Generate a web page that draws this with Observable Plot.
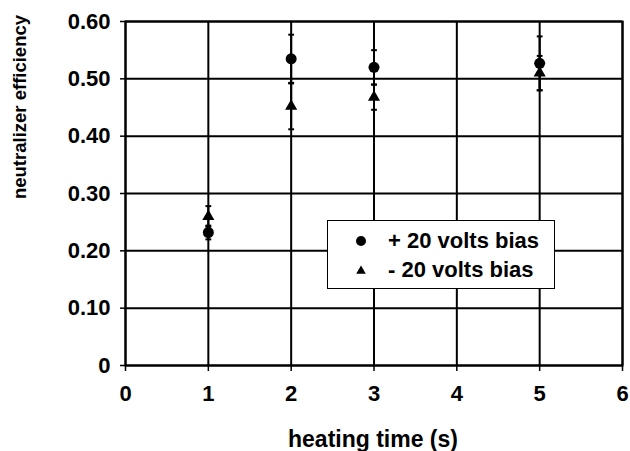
<!DOCTYPE html>
<html>
<head>
<meta charset="utf-8">
<script src="https://cdn.jsdelivr.net/npm/d3@7"></script>
<script src="https://cdn.jsdelivr.net/npm/@observablehq/plot@0.6"></script>
<style>
  html, body { margin: 0; padding: 0; background: white; }
  #wrap { position: relative; width: 630px; height: 451px; font-family: "Liberation Sans", Arial, sans-serif; }
  #wrap svg text { font-weight: bold; }
  #legend { position: absolute; left: 327px; top: 220px; width: 226px; height: 67px; border: 1.5px solid black; background: white; }
  .row { position: absolute; left: 0; height: 26px; display: flex; align-items: center; font-size: 22px; font-weight: bold; color: black; }
</style>
</head>
<body>
<div id="wrap"></div>
<script>
// Data
const heatingTime = [1, 2, 3, 5];
const plusBias = [0.232, 0.535, 0.520, 0.527];
const plusErr = [0.012, 0.042, 0.030, 0.047];
const minusBias = [0.260, 0.452, 0.468, 0.510];
const minusErr = [0.018, 0.040, 0.022, 0.030];
const xTicks = [0, 1, 2, 3, 4, 5, 6];
const yTicks = [0, 0.1, 0.2, 0.3, 0.4, 0.5, 0.6];
const seriesNames = ["+ 20 volts bias", "- 20 volts bias"];
const xLabel = "heating time (s)";
const yLabel = "neutralizer efficiency";

const plus = heatingTime.map((t, i) => ({t, v: plusBias[i], e: plusErr[i]}));
const minus = heatingTime.map((t, i) => ({t, v: minusBias[i], e: minusErr[i]}));
const cap = 0.035;

function errMarks(data) {
  return [
    Plot.ruleX(data, {x: "t", y1: d => d.v - d.e, y2: d => d.v + d.e, stroke: "black", strokeWidth: 2}),
    Plot.link(data, {x1: d => d.t - cap, x2: d => d.t + cap, y1: d => d.v + d.e, y2: d => d.v + d.e, stroke: "black", strokeWidth: 2}),
    Plot.link(data, {x1: d => d.t - cap, x2: d => d.t + cap, y1: d => d.v - d.e, y2: d => d.v - d.e, stroke: "black", strokeWidth: 2})
  ];
}

const chart = Plot.plot({
  width: 630,
  height: 451,
  marginLeft: 125,
  marginRight: 8,
  marginTop: 21,
  marginBottom: 86,
  style: {fontFamily: "'Liberation Sans', Arial, sans-serif", fontSize: "22px", color: "black", background: "white", overflow: "visible"},
  x: {domain: [0, 6]},
  y: {domain: [0, 0.6]},
  marks: [
    Plot.gridX(xTicks, {stroke: "black", strokeOpacity: 1, strokeWidth: 2}),
    Plot.gridY(yTicks, {stroke: "black", strokeOpacity: 1, strokeWidth: 2}),
    Plot.frame({stroke: "black", strokeWidth: 2}),
    Plot.axisX({ticks: xTicks, tickFormat: d => String(d), tickSize: 6, tickPadding: 14, label: null, strokeWidth: 1.5}),
    Plot.axisY({ticks: yTicks, tickFormat: d => d === 0 ? "0" : d.toFixed(2), tickSize: 5, tickPadding: 10, label: null, strokeWidth: 1.5}),
    ...errMarks(plus),
    ...errMarks(minus),
    Plot.dot(plus, {x: "t", y: "v", r: 5.5, fill: "black", symbol: "circle"}),
    Plot.dot(minus, {x: "t", y: "v", r: 4.5, fill: "black", symbol: "triangle"})
  ]
});

const svg = d3.select(chart);
svg.append("text")
  .attr("x", 373).attr("y", 441)
  .attr("text-anchor", "middle")
  .attr("dominant-baseline", "middle")
  .style("font-size", "23px")
  .text(xLabel);
svg.append("text")
  .attr("transform", "translate(21,107) rotate(-90)")
  .attr("text-anchor", "middle")
  .attr("dominant-baseline", "middle")
  .style("font-size", "18.5px")
  .text(yLabel);

const wrap = document.getElementById("wrap");
wrap.appendChild(chart);

// Legend
const legend = document.createElement("div");
legend.id = "legend";
const symbols = ["circle", "triangle"];
seriesNames.forEach((name, i) => {
  const row = document.createElement("div");
  row.className = "row";
  row.style.top = (7 + i * 29) + "px";
  const ic = d3.create("svg").attr("width", 60).attr("height", 26);
  if (symbols[i] === "circle") {
    ic.append("circle").attr("cx", 33).attr("cy", 13).attr("r", 5).attr("fill", "black");
  } else {
    ic.append("path").attr("d", d3.symbol(d3.symbolTriangle, 40)()).attr("transform", "translate(33,14)").attr("fill", "black");
  }
  row.appendChild(ic.node());
  const span = document.createElement("span");
  span.textContent = name;
  row.appendChild(span);
  legend.appendChild(row);
});
wrap.appendChild(legend);
</script>
</body>
</html>
